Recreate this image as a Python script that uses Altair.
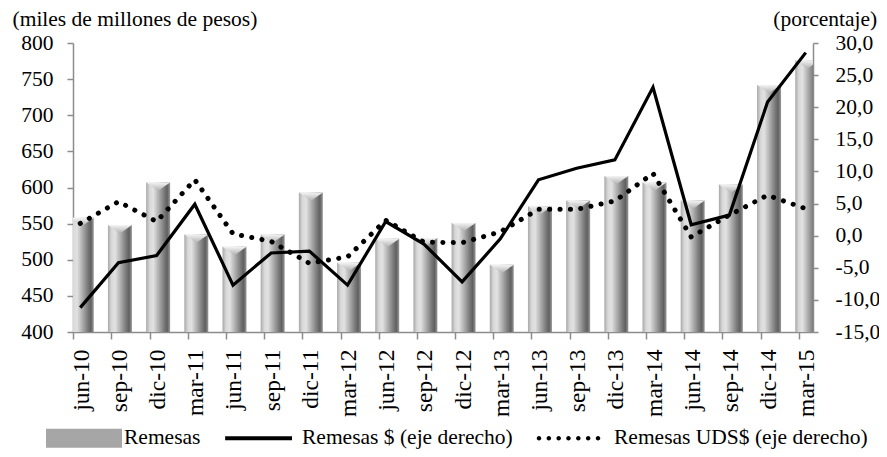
import altair as alt
import pandas as pd

categorias = ["jun-10", "sep-10", "dic-10", "mar-11", "jun-11", "sep-11", "dic-11",
              "mar-12", "jun-12", "sep-12", "dic-12", "mar-13", "jun-13", "sep-13",
              "dic-13", "mar-14", "jun-14", "sep-14", "dic-14", "mar-15"]
remesas = [558, 548, 607, 535, 518, 535, 593, 496, 529, 530, 551, 493, 574, 582,
           616, 607, 582, 604, 742, 776]
remesas_pesos = [-11.2, -4.2, -3.1, 4.9, -7.7, -2.7, -2.4, -7.7, 2.2, -1.3, -7.2,
                 -0.5, 8.7, 10.5, 11.8, 23.1, 1.7, 3.2, 20.8, 28.5]
remesas_usd = [1.9, 5.3, 2.2, 8.7, 0.3, -0.9, -4.3, -3.3, 2.4, -1.0, -1.1, 0.6,
               4.1, 4.1, 5.4, 9.7, -0.2, 3.2, 6.3, 4.2]
series = ["Remesas", "Remesas $ (eje derecho)", "Remesas UDS$ (eje derecho)"]
ticks_izq = [400, 450, 500, 550, 600, 650, 700, 750, 800]
ticks_der = [-15, -10, -5, 0, 5, 10, 15, 20, 25, 30]

df = pd.DataFrame({"cat": categorias, "remesas": remesas,
                   "pesos": remesas_pesos, "usd": remesas_usd})
leg = pd.DataFrame({"serie": series})

FONT = "Liberation Serif"
AX = "#8c8c8c"
FS = 21.5

x_enc = alt.X(
    "cat:N", sort=categorias,
    scale=alt.Scale(type="point", padding=0.19),
    axis=alt.Axis(title=None, labelAngle=-90, labelAlign="right", labelBaseline="middle",
                  labelPadding=10, labelFontSize=23.5, labelFont=FONT, labelColor="black",
                  tickSize=7, tickOffset=-7, labelOffset=8, labelOverlap=False,
                  domainColor=AX, tickColor=AX, domainWidth=1.5, tickWidth=1.5, grid=False),
)

axis_left = alt.Axis(
    orient="left", values=ticks_izq, grid=False, tickSize=6, labelPadding=14,
    labelFont=FONT, labelFontSize=FS, labelColor="black",
    domainColor=AX, tickColor=AX, domainWidth=1.5, tickWidth=1.5,
    title="(miles de millones de pesos)", titleAngle=0, titleAlign="left",
    titleBaseline="alphabetic", titleX=-61, titleY=-18, titleFont=FONT,
    titleFontSize=FS, titleFontWeight="normal", titleColor="black",
)
axis_right = alt.Axis(
    orient="right", values=ticks_der, grid=False, tickSize=5, labelPadding=17,
    labelExpr="(datum.value < 0 ? '-' : '') + replace(format(abs(datum.value), '.1f'), '.', ',')",
    labelFont=FONT, labelFontSize=FS, labelColor="black",
    domainColor=AX, tickColor=AX, domainWidth=1.5, tickWidth=1.5,
    title="(porcentaje)", titleAngle=0, titleAlign="right",
    titleBaseline="alphabetic", titleX=63.7, titleY=-18, titleFont=FONT,
    titleFontSize=FS, titleFontWeight="normal", titleColor="black",
)

scale_left = alt.Scale(domain=[400, 800], zero=False, nice=False)
scale_right = alt.Scale(domain=[-15, 30], zero=False, nice=False)

bar_grad = alt.Gradient(
    gradient="linear", x1=0, y1=0, x2=1, y2=0,
    stops=[alt.GradientStop(color="#a8a8a8", offset=0.0),
           alt.GradientStop(color="#d8d8d8", offset=0.15),
           alt.GradientStop(color="#e2e2e2", offset=0.3),
           alt.GradientStop(color="#b4b4b4", offset=0.5),
           alt.GradientStop(color="#7a7a7a", offset=0.75),
           alt.GradientStop(color="#606060", offset=0.88),
           alt.GradientStop(color="#9a9a9a", offset=1.0)],
)
bevel_grad = alt.Gradient(
    gradient="linear", x1=0, y1=0, x2=0, y2=1,
    stops=[alt.GradientStop(color="#f4f4f4", offset=0.0),
           alt.GradientStop(color="#b0b0b0", offset=1.0)],
)

bars = alt.Chart(df).mark_bar(size=24, clip=True, fill=bar_grad, xOffset=1.5).encode(
    x=x_enc, y=alt.Y("remesas:Q", scale=scale_left, axis=axis_left)
)
bevel = alt.Chart(df).mark_point(
    shape="M-1,-0.35L1,-0.35L0,0.35Z", size=576, filled=True, fill=bevel_grad,
    opacity=1, strokeWidth=0, clip=True, yOffset=4.2, xOffset=1.5
).encode(x=x_enc, y=alt.Y("remesas:Q", scale=scale_left, axis=axis_left))

left = alt.layer(bars, bevel)

solid = alt.Chart(df).mark_line(color="black", strokeWidth=3.2).encode(
    x=x_enc, y=alt.Y("pesos:Q", scale=scale_right, axis=axis_right)
)
dotted = alt.Chart(df).mark_line(
    color="black", strokeWidth=5, strokeDash=[0.1, 10.3], strokeCap="round"
).encode(x=x_enc, y=alt.Y("usd:Q", scale=scale_right, axis=axis_right))

# legend symbols (unit box -1..1)
r = 0.06
dot_cx = [-0.921, -0.662, -0.403, -0.145, 0.114, 0.373, 0.632]
dots_path = "".join(
    f"M{cx - r:.3f},0A{r},{r} 0 1,0 {cx + r:.3f},0A{r},{r} 0 1,0 {cx - r:.3f},0Z" for cx in dot_cx
)
paths = ["M-1,-0.25L1,-0.25L1,0.25L-1,0.25Z",
         "M-0.97,-0.053L0.79,-0.053L0.79,0.053L-0.97,0.053Z",
         dots_path]
leg_colors = ["#a6a6a6", "black", "black"]

def make_legend():
    return alt.Legend(
        title=None, orient="none", legendX=-27, legendY=357, direction="horizontal",
        symbolSize=5776, symbolOpacity=1, symbolStrokeWidth=0, labelFont=FONT,
        labelFontSize=FS, labelColor="black", labelOffset=2, columnPadding=23,
        padding=0, labelLimit=400,
    )

legend_pts = alt.Chart(leg).mark_point(opacity=0, filled=True).encode(
    x=alt.value(0), y=alt.value(0),
    shape=alt.Shape("serie:N", sort=series, scale=alt.Scale(domain=series, range=paths), legend=make_legend()),
    fill=alt.Fill("serie:N", sort=series, scale=alt.Scale(domain=series, range=leg_colors), legend=make_legend()),
)

right = alt.layer(solid, dotted, legend_pts)

chart = alt.layer(left, right).resolve_scale(y="independent").properties(
    width=740, height=289,
    autosize=alt.AutoSizeParams(type="none"),
    padding={"left": 65, "top": 35, "right": 66, "bottom": 117},
    background="white",
).configure_view(stroke=None)

chart.save("out.html", embed_options={"renderer": "svg", "actions": False})
